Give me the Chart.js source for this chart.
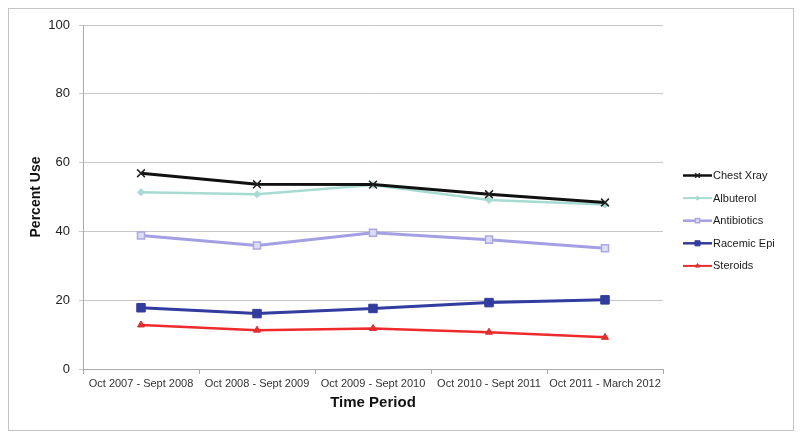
<!DOCTYPE html>
<html>
<head>
<meta charset="utf-8">
<script src="https://cdn.jsdelivr.net/npm/chart.js@4/dist/chart.umd.min.js"></script>
<style>
  html, body { margin: 0; padding: 0; background: #fff; }
  #wrap { position: relative; width: 800px; height: 439px; }
  #frame { position: absolute; left: 8px; top: 8px; width: 784px; height: 421px; border: 1px solid #c4c4c4; pointer-events: none; }
  canvas { position: absolute; left: 0; top: 0; }
</style>
</head>
<body>
<div id="wrap">
  <canvas id="c" width="800" height="439"></canvas>
  <div id="frame"></div>
</div>
<script>
const categories = ["Oct 2007 - Sept 2008", "Oct 2008 - Sept 2009", "Oct 2009 - Sept 2010", "Oct 2010 - Sept 2011", "Oct 2011 - March 2012"];
const chestXray   = [56.9, 53.7, 53.6, 50.8, 48.4];
const albuterol   = [51.4, 50.8, 53.5, 49.1, 47.8];
const antibiotics = [38.8, 35.9, 39.6, 37.6, 35.1];
const racemicEpi  = [17.8, 16.1, 17.6, 19.3, 20.1];
const steroids    = [12.8, 11.3, 11.8, 10.7, 9.2];
const yTicks = [0, 20, 40, 60, 80, 100];
const seriesNames = ["Chest Xray", "Albuterol", "Antibiotics", "Racemic Epi", "Steroids"];

const FONT = "'Liberation Sans', Arial, sans-serif";

const datasets = [
  { label: seriesNames[0], data: chestXray, borderColor: '#111111', backgroundColor: '#111111',
    borderWidth: 3, pointStyle: 'crossRot', pointRadius: 5.5, pointBorderWidth: 1.5, pointBorderColor: '#222' },
  { label: seriesNames[1], data: albuterol, borderColor: '#a6dbd3', backgroundColor: '#a6dbd3',
    borderWidth: 2.5, pointStyle: 'rectRot', pointRadius: 3.5, pointBorderWidth: 1, pointBorderColor: '#a6dbd3' },
  { label: seriesNames[2], data: antibiotics, borderColor: '#a2a0e2', backgroundColor: '#dcdcf4',
    borderWidth: 3, pointStyle: 'rect', pointRadius: 5, pointBorderWidth: 1.5, pointBorderColor: '#aaa8e4' },
  { label: seriesNames[3], data: racemicEpi, borderColor: '#323c9e', backgroundColor: '#323c9e',
    borderWidth: 3, pointStyle: 'rect', pointRadius: 6, pointBorderWidth: 1, pointBorderColor: '#323c9e' },
  { label: seriesNames[4], data: steroids, borderColor: '#ee2a2a', backgroundColor: '#ee2a2a',
    borderWidth: 2.5, pointStyle: 'triangle', pointRadius: 4, pointBorderWidth: 1, pointBorderColor: '#d83030' }
];
datasets.forEach(d => { d.tension = 0; d.fill = false; d.pointHoverRadius = d.pointRadius; });

const legendPlugin = {
  id: 'sideLegend',
  afterDraw(chart) {
    const ctx = chart.ctx;
    const x0 = 683, x1 = 712, yStart = 175.5, step = 22.6;
    ctx.save();
    chart.data.datasets.forEach((ds, i) => {
      const y = yStart + i * step;
      ctx.strokeStyle = ds.borderColor;
      ctx.lineWidth = Math.max(2, ds.borderWidth - 0.5);
      ctx.beginPath(); ctx.moveTo(x0, y); ctx.lineTo(x1, y); ctx.stroke();
      const opts = { pointStyle: ds.pointStyle, radius: ds.pointRadius * 0.6, borderWidth: ds.pointBorderWidth, rotation: 0 };
      ctx.fillStyle = ds.backgroundColor;
      ctx.strokeStyle = ds.pointBorderColor;
      ctx.lineWidth = ds.pointBorderWidth;
      if (Chart.helpers && Chart.helpers.drawPoint) Chart.helpers.drawPoint(ctx, opts, (x0 + x1) / 2, y);
      ctx.fillStyle = '#1a1a1a';
      ctx.font = '11px ' + FONT;
      ctx.textBaseline = 'middle';
      ctx.textAlign = 'left';
      ctx.fillText(ds.label, x1 + 1, y + 0.5);
    });
    ctx.restore();
  }
};

new Chart(document.getElementById('c'), {
  type: 'line',
  data: { labels: categories, datasets },
  plugins: [legendPlugin],
  options: {
    responsive: false,
    animation: false,
    devicePixelRatio: 1,
    layout: { padding: { top: 25, right: 137, bottom: 0, left: 0 } },
    plugins: { legend: { display: false }, tooltip: { enabled: false } },
    scales: {
      x: {
        type: 'category',
        offset: true,
        afterFit(s) { s.height = 70; },
        grid: { display: true, drawOnChartArea: false, offset: true, tickLength: 5, color: '#aaaaaa' },
        border: { display: true, color: '#aaaaaa', width: 1 },
        ticks: { color: '#333', font: { family: FONT, size: 11 }, padding: 3, maxRotation: 0, autoSkip: false },
        title: { display: true, text: 'Time Period', color: '#111', font: { family: FONT, size: 15, weight: 'bold' }, padding: { top: 0, bottom: 27 } }
      },
      y: {
        min: 0, max: 100,
        afterFit(s) { s.width = 83; },
        afterBuildTicks(s) { s.ticks = yTicks.map(v => ({ value: v })); },
        grid: { color: '#c8c8c8', tickLength: 4, lineWidth: 1 },
        border: { display: true, color: '#aaaaaa', width: 1 },
        ticks: { color: '#222', font: { family: FONT, size: 13 }, padding: 9 },
        title: { display: true, text: 'Percent Use', color: '#111', font: { family: FONT, size: 14, weight: 'bold' }, padding: { top: 27.6, bottom: 0 } }
      }
    }
  }
});
</script>
</body>
</html>
